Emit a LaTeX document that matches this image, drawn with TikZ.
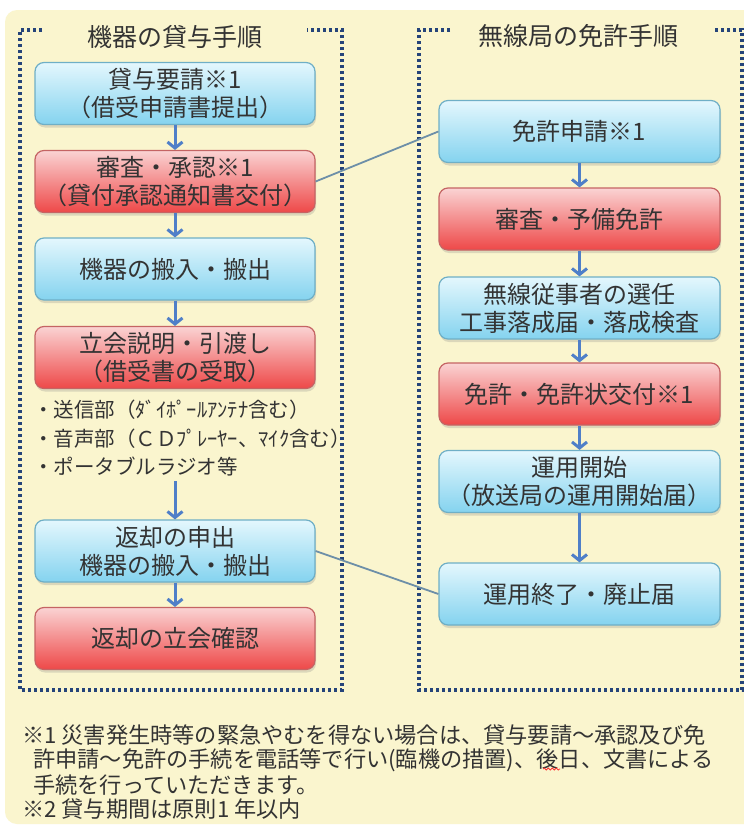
\documentclass[tikz,border=0pt]{standalone}
\usepackage{fontspec}
\setmainfont{Noto Sans CJK JP}
\usetikzlibrary{shadows,arrows.meta,decorations.pathmorphing}
\definecolor{bgc}{HTML}{FAF5CE}
\definecolor{txt}{HTML}{333333}
\definecolor{bluetop}{HTML}{E4F7FD}
\definecolor{bluebot}{HTML}{84D3EF}
\definecolor{blueedge}{HTML}{6FAFC6}
\definecolor{redtop}{HTML}{FAD3D3}
\definecolor{redbot}{HTML}{EE4848}
\definecolor{rededge}{HTML}{C56464}
\definecolor{arrowc}{HTML}{4F7FC8}
\definecolor{linkc}{HTML}{6D8FA8}
\definecolor{framec}{HTML}{25447A}
\tikzset{
  boxbase/.style={rounded corners=9pt, minimum height=62pt, align=center,
    text=txt, font=\fontsize{24}{28}\selectfont, line width=1.2pt,
    drop shadow={opacity=0.25, shadow xshift=1pt, shadow yshift=-3pt}},
  bluebox/.style={boxbase, draw=blueedge, top color=bluetop, bottom color=bluebot},
  redbox/.style={boxbase, draw=rededge, top color=redtop, bottom color=redbot},
  lbox/.style={minimum width=280pt},
  rbox/.style={minimum width=281pt},
  flow/.style={draw=arrowc, line width=3pt, -{Straight Barb[length=6pt,width=15pt]}},
  link/.style={draw=linkc, line width=1.8pt},
  frame/.style={draw=framec, line width=3.2pt, dash pattern=on 3pt off 3pt},
  titletext/.style={text=txt, font=\fontsize{25}{28}\selectfont},
  notetext/.style={text=txt, font=\fontsize{22.2}{24}\selectfont, anchor=west, inner sep=0pt}
}
\begin{document}
\begin{tikzpicture}[x=1pt,y=-1pt]
\useasboundingbox (0,0) rectangle (744,827);
\fill[white] (0,0) rectangle (744,827);
\fill[bgc, rounded corners=12pt] (5,10) rectangle (770,824);

% dotted frames
\draw[frame] (42,30) -- (20,30) -- (20,690) -- (342,690) -- (342,30) -- (307,30);
\draw[frame] (450,30) -- (419,30) -- (419,690) -- (742,690) -- (742,30) -- (713,30);

% titles
\node[titletext] (tl) at (175,37) {機器の貸与手順};
\node[titletext] (tr) at (578,36) {無線局の免許手順};

% left column
\node[bluebox, lbox] (l1) at (175,93.5) {貸与要請※1\\（借受申請書提出）};
\node[redbox, lbox] (l2) at (175,181.5) {審査・承認※1\\（貸付承認通知書交付）};
\node[bluebox, lbox] (l3) at (175,269) {機器の搬入・搬出};
\node[redbox, lbox] (l4) at (175,357.5) {立会説明・引渡し\\（借受書の受取）};
\node[text=txt, font=\fontsize{20.5}{28.5}\selectfont, align=left, anchor=north west, inner sep=0pt] (bul) at (33,400)
  {・送信部（ﾀﾞｲﾎﾟｰﾙｱﾝﾃﾅ含む）\\・音声部（ＣＤﾌﾟﾚｰﾔｰ、ﾏｲｸ含む）\\・ポータブルラジオ等};
\coordinate (bend) at (175,481);
\node[bluebox, lbox] (l5) at (175,551) {返却の申出\\機器の搬入・搬出};
\node[redbox, lbox] (l6) at (175,638.5) {返却の立会確認};

% right column
\node[bluebox, rbox] (r1) at (579.5,131.5) {免許申請※1};
\node[redbox, rbox] (r2) at (579.5,219) {審査・予備免許};
\node[bluebox, rbox] (r3) at (579.5,308) {無線従事者の選任\\工事落成届・落成検査};
\node[redbox, rbox] (r4) at (579.5,394) {免許・免許状交付※1};
\node[bluebox, rbox] (r5) at (579.5,481.5) {運用開始\\（放送局の運用開始届）};
\node[bluebox, rbox] (r6) at (579.5,594) {運用終了・廃止届};

% arrows
\draw[flow] (l1) -- (l2);
\draw[flow] (l2) -- (l3);
\draw[flow] (l3) -- (l4);
\draw[flow] (bend) -- (l5);
\draw[flow] (l5) -- (l6);
\draw[flow] (r1) -- (r2);
\draw[flow] (r2) -- (r3);
\draw[flow] (r3) -- (r4);
\draw[flow] (r4) -- (r5);
\draw[flow] (r5) -- (r6);

% links
\draw[link] (l2.east) -- (r1.west);
\draw[link] (l5.east) -- (r6.west);

% notes
\node[notetext] (n1) at (22,735) {※1 災害発生時等の緊急やむを得ない場合は、貸与要請～承認及び免};
\node[notetext] (n2) at (33,760) {許申請～免許の手続を電話等で行い(臨機の措置)、後日、文書による};
\node[notetext] (n3) at (33,785) {手続を行っていただきます。};
\node[notetext] (n4) at (22,809) {※2 貸与期間は原則1 年以内};
\draw[red!80, line width=0.8pt, decorate, decoration={snake, amplitude=1pt, segment length=4pt}] (543,769) -- (560,769);
\end{tikzpicture}
\end{document}
